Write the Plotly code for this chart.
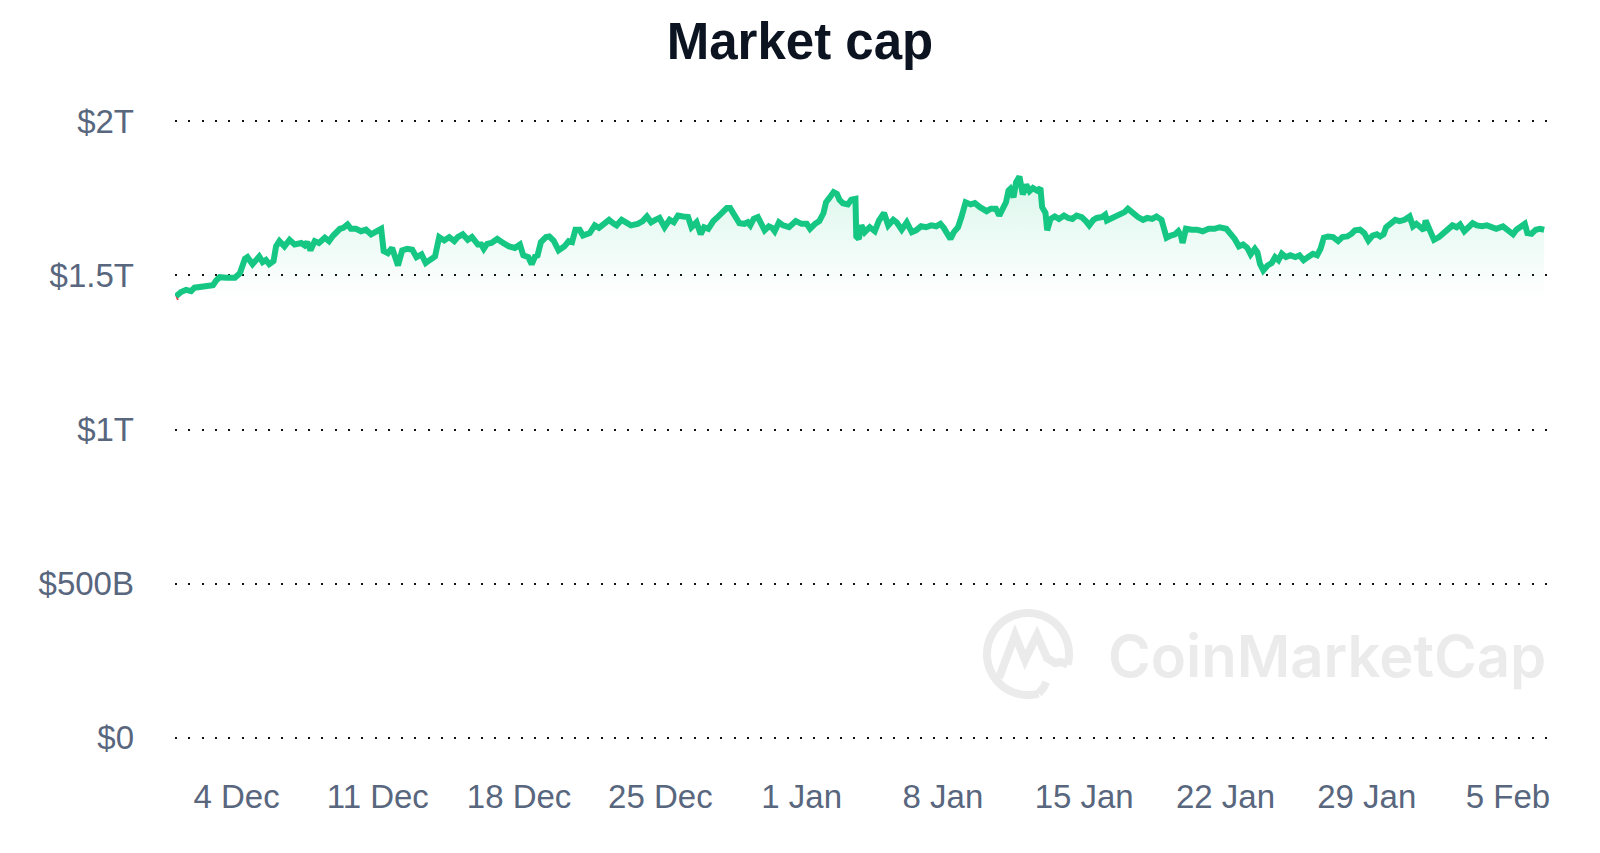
import math
import pandas as pd
import plotly.graph_objects as go

# ---------------- data ----------------
start_time = "2023-12-01 00:00"

hours_since_start = [
    0, 6, 12, 18, 22, 30, 36, 44, 48, 52, 60, 70, 76, 82, 85, 91, 99, 103, 107, 111,
    116, 119, 123, 129, 135, 141, 149, 153, 156, 160, 165, 170, 177, 182, 187, 195, 199, 204, 208, 214,
    220, 226, 232, 238, 244, 247, 252, 257, 264, 269, 275, 281, 286, 292, 297, 302, 308, 313, 319,
    325, 331, 335, 341, 347, 352, 359, 363, 366, 370, 375, 382, 389, 396, 403, 409, 413, 419, 423, 427,
    430, 434, 440, 444, 449, 455, 462, 467, 471, 475, 480, 484, 492, 498, 503, 509, 515, 520, 524, 530,
    536, 541, 549, 555, 560, 565, 570, 575, 581, 587, 592, 597, 603, 609, 613, 619, 624, 628, 633, 639,
    645, 651, 655,
    659, 662, 666, 670, 676, 680, 683, 687, 692, 696, 700, 705, 709, 712, 717, 722, 729, 737, 744, 750,
    754, 760, 765, 770, 773, 777, 782, 786, 789, 793, 799, 803, 808, 809, 812, 815, 819, 825, 831, 836,
    842, 847, 853, 857, 863, 869, 875, 880, 886, 892, 898, 904, 909, 913, 918, 921, 925, 930, 934, 939,
    945, 950, 956, 964, 969, 975, 979, 983, 987, 990,
    992, 996, 999, 1003, 1007, 1011, 1015, 1019, 1024, 1028, 1030, 1034, 1036, 1040, 1045, 1050, 1056, 1061, 1066, 1071,
    1077, 1082, 1086, 1091, 1095, 1101, 1105, 1107, 1113, 1118, 1123, 1128, 1132, 1138, 1144, 1150, 1155, 1161, 1166, 1172,
    1175, 1178, 1183, 1188, 1192, 1195, 1197, 1201, 1208, 1214, 1221, 1228, 1235, 1241, 1249, 1254, 1259, 1264, 1269, 1274,
    1278, 1283, 1286, 1289, 1293, 1298, 1303, 1307, 1311, 1315, 1320,
    1325, 1331, 1336, 1341, 1346, 1352, 1357, 1361, 1365, 1370, 1376, 1382, 1387, 1393, 1398, 1402, 1408, 1413, 1418, 1423,
    1428, 1432, 1436, 1439, 1444, 1450, 1455, 1461, 1467, 1471, 1475, 1480, 1484, 1486, 1490, 1496, 1502, 1507, 1512, 1518,
    1523, 1527, 1532, 1537, 1542, 1547, 1553, 1559, 1565, 1570, 1578, 1583, 1590, 1594, 1600, 1604, 1607, 1612, 1617, 1622,
    1627,
]

market_cap_trillions = [
    1.432, 1.446, 1.453, 1.449, 1.460, 1.462, 1.464, 1.468, 1.484, 1.494, 1.492, 1.492, 1.507, 1.554, 1.559, 1.536, 1.561, 1.543, 1.550, 1.536,
    1.546, 1.594, 1.611, 1.594, 1.615, 1.600, 1.605, 1.597, 1.608, 1.581, 1.611, 1.605, 1.622, 1.611, 1.629, 1.651, 1.654, 1.665, 1.651, 1.651,
    1.643, 1.648, 1.633, 1.643, 1.651, 1.579, 1.572, 1.589, 1.532, 1.581, 1.586, 1.583, 1.559, 1.568, 1.540, 1.550, 1.561, 1.624, 1.613,
    1.624, 1.611, 1.624, 1.633, 1.615, 1.624, 1.600, 1.600, 1.586, 1.602, 1.605, 1.618, 1.605, 1.594, 1.589, 1.600, 1.565, 1.559, 1.536, 1.561,
    1.565, 1.608, 1.624, 1.626, 1.613, 1.581, 1.594, 1.611, 1.608, 1.648, 1.648, 1.629, 1.637, 1.662, 1.654, 1.667, 1.680, 1.669, 1.662, 1.680,
    1.667, 1.662, 1.667, 1.676, 1.691, 1.672, 1.680, 1.686, 1.656, 1.680, 1.672, 1.694, 1.691, 1.689, 1.656, 1.672, 1.633, 1.656, 1.651, 1.676,
    1.691, 1.705, 1.718,
    1.718, 1.705, 1.689, 1.669, 1.667, 1.672, 1.662, 1.683, 1.689, 1.667, 1.646, 1.659, 1.654, 1.643, 1.672, 1.662, 1.656, 1.676, 1.667, 1.667,
    1.651, 1.667, 1.676, 1.702, 1.737, 1.751, 1.770, 1.764, 1.745, 1.734, 1.730, 1.745, 1.748, 1.626, 1.618, 1.662, 1.640, 1.656, 1.643, 1.678,
    1.702, 1.662, 1.680, 1.672, 1.648, 1.672, 1.640, 1.646, 1.659, 1.656, 1.662, 1.659, 1.667, 1.654, 1.629, 1.618, 1.640, 1.656, 1.689, 1.737,
    1.730, 1.734, 1.721, 1.708, 1.716, 1.716, 1.694, 1.721, 1.737, 1.775,
    1.780, 1.753, 1.802, 1.820, 1.762, 1.794, 1.773, 1.783, 1.775, 1.783, 1.721, 1.702, 1.646, 1.683, 1.691, 1.683, 1.694, 1.686, 1.683, 1.694,
    1.689, 1.676, 1.662, 1.680, 1.686, 1.689, 1.697, 1.678, 1.686, 1.691, 1.694, 1.705, 1.716, 1.699, 1.689, 1.680, 1.686, 1.683, 1.691, 1.680,
    1.656, 1.622, 1.629, 1.633, 1.643, 1.629, 1.605, 1.651, 1.648, 1.648, 1.643, 1.651, 1.651, 1.656, 1.651, 1.635, 1.618, 1.594, 1.600, 1.589,
    1.568, 1.586, 1.575, 1.538, 1.516, 1.532, 1.540, 1.559, 1.549, 1.570, 1.559,
    1.565, 1.559, 1.565, 1.549, 1.559, 1.570, 1.565, 1.586, 1.622, 1.626, 1.624, 1.611, 1.624, 1.626, 1.635, 1.646, 1.648, 1.637, 1.613, 1.629,
    1.633, 1.626, 1.633, 1.656, 1.667, 1.680, 1.676, 1.680, 1.691, 1.659, 1.667, 1.654, 1.646, 1.678, 1.651, 1.615, 1.624, 1.637, 1.651, 1.662,
    1.656, 1.665, 1.643, 1.659, 1.669, 1.662, 1.659, 1.662, 1.654, 1.651, 1.659, 1.646, 1.633, 1.648, 1.662, 1.667, 1.637, 1.635, 1.648, 1.651,
    1.648,
]

# short red segment at the very start (value dipped below the opening level)
red_hours = [0, 2]
red_values = [1.428, 1.430]

ytick_values = [0, 0.5, 1.0, 1.5, 2.0]
ytick_labels = ["$0", "$500B", "$1T", "$1.5T", "$2T"]

xtick_dates = ["2023-12-04", "2023-12-11", "2023-12-18", "2023-12-25", "2024-01-01",
               "2024-01-08", "2024-01-15", "2024-01-22", "2024-01-29", "2024-02-05"]
xtick_labels = ["4 Dec", "11 Dec", "18 Dec", "25 Dec", "1 Jan",
                "8 Jan", "15 Jan", "22 Jan", "29 Jan", "5 Feb"]

x_range = ["2023-11-30 22:50", "2024-02-07 05:30"]
y_range = [-0.02, 2.02]

# ---------------- figure ----------------
t0 = pd.Timestamp(start_time)
times = t0 + pd.to_timedelta(hours_since_start, unit="h")
red_times = t0 + pd.to_timedelta(red_hours, unit="h")

GREEN = "#16c784"
RED = "#ea3943"
LABEL = "#58667e"

fig = go.Figure()

fig.add_trace(go.Scatter(
    x=red_times, y=red_values, mode="lines",
    line=dict(color=RED, width=6), hoverinfo="skip", showlegend=False,
))

fig.add_trace(go.Scatter(
    x=times, y=market_cap_trillions, mode="lines",
    line=dict(color=GREEN, width=6, shape="linear"),
    fill="tozeroy",
    fillgradient=dict(
        type="vertical",
        colorscale=[[0, "rgba(22,199,132,0)"], [1, "rgba(22,199,132,0.16)"]],
        start=1.42, stop=1.83,
    ),
    showlegend=False,
    hovertemplate="%{x|%d %b %Y %H:%M}<br>$%{y:.3f}T<extra></extra>",
))

W, H = 1600, 853
ML, MR, MT, MB = 175, 47, 115, 109
PW, PH = W - ML - MR, H - MT - MB


def to_paper(px, py):
    return (px - ML) / PW, (H - MB - py) / PH


# watermark logo (decorative)
cx, cy, R = 1028, 654, 41
ring_pts = []
for k in range(0, 121):
    ang = math.radians(-15 + 300 * k / 120)
    ring_pts.append(to_paper(cx + R * math.cos(ang), cy - R * math.sin(ang)))
ring_path = "M " + " L ".join(f"{x:.5f},{y:.5f}" for x, y in ring_pts)
m_rel = [(-29, -24), (-13, 19), (-3, -6), (9, 19), (19, -4), (27, -9), (33, -8), (39.6, -10.6)]
m_pts = [to_paper(cx + dx, cy - dy) for dx, dy in m_rel]
m_path = "M " + " L ".join(f"{x:.5f},{y:.5f}" for x, y in m_pts)
hook_rel = [(10.6, -39.6), (16, -33), (18, -28)]
hook_pts = [to_paper(cx + dx, cy - dy) for dx, dy in hook_rel]
hook_path = "M " + " L ".join(f"{x:.5f},{y:.5f}" for x, y in hook_pts)

WM = "#ebebeb"
shapes = []
for p in (ring_path, m_path, hook_path):
    shapes.append(dict(type="path", path=p, xref="paper", yref="paper",
                       line=dict(color=WM, width=8), layer="below"))

wx, wy = to_paper(1106, 656)

fig.update_layout(
    width=W, height=H,
    margin=dict(l=ML, r=MR, t=MT, b=MB, pad=0),
    paper_bgcolor="white", plot_bgcolor="white",
    font=dict(family="Liberation Sans, Arial, Helvetica, sans-serif", color=LABEL),
    title=dict(text="<b>Market cap</b>", x=0.5, xanchor="center",
               y=1 - 41 / H, yanchor="middle", yref="container",
               font=dict(size=51, color="#0d1421",
                         family="Liberation Sans, Arial, Helvetica, sans-serif")),
    shapes=shapes,
    annotations=[dict(text="CoinMarketCap", x=wx, y=wy, xref="paper", yref="paper",
                      xanchor="left", yanchor="middle", showarrow=False,
                      font=dict(size=58, color=WM, family="Inter, Noto Sans, sans-serif",
                                weight=600))],
    xaxis=dict(
        type="date", range=x_range,
        tickvals=xtick_dates, ticktext=xtick_labels,
        showgrid=False, zeroline=False, showline=False, ticks="",
        tickfont=dict(size=33, color=LABEL), ticklabelstandoff=30,
    ),
    yaxis=dict(
        range=y_range, tickvals=ytick_values, ticktext=ytick_labels,
        showgrid=True, gridcolor="#111111", gridwidth=2, griddash="2px,11.3px",
        zeroline=False, showline=False, ticks="",
        tickfont=dict(size=33, color=LABEL), ticklabelstandoff=40,
    ),
    hovermode="x",
)

fig.write_html("out.html",
               config={"displayModeBar": False},
               post_script="document.body.style.margin='0';document.body.style.overflow='hidden';")
